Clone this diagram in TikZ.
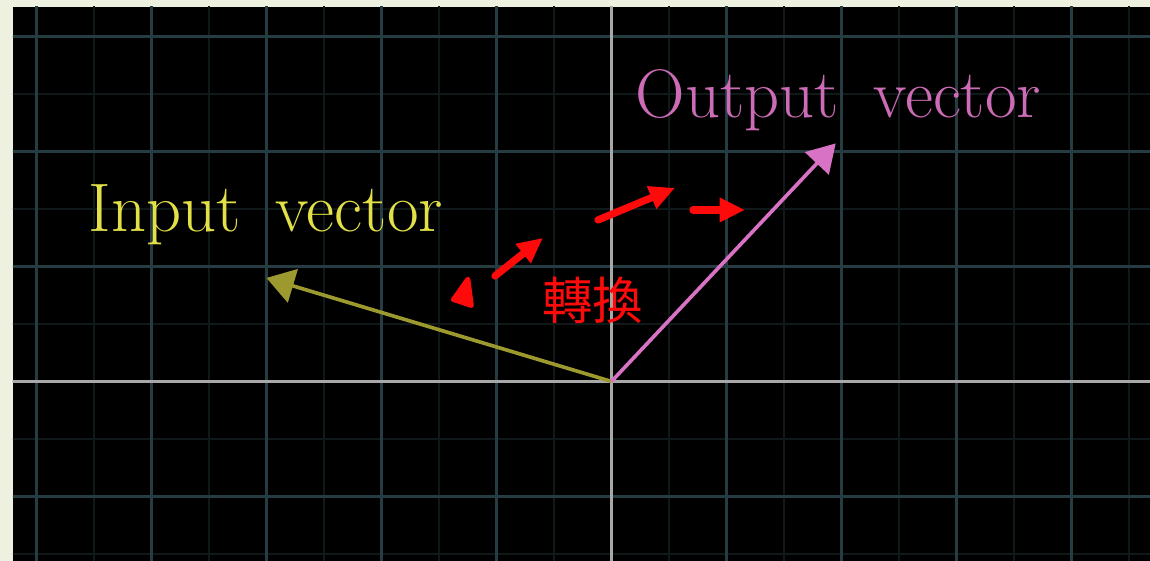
\documentclass[tikz,border=0pt]{standalone}
\usepackage{fontspec}
\newfontfamily\cjkfont{Noto Sans CJK TC}
\usetikzlibrary{arrows.meta}
\definecolor{paperbeige}{HTML}{EEF0E0}
\definecolor{gridmajor}{HTML}{253C43}
\definecolor{gridminor}{HTML}{10191A}
\definecolor{axisgrey}{HTML}{A8A8A8}
\definecolor{inolive}{HTML}{9C9A2E}
\definecolor{inyellow}{HTML}{E2E046}
\definecolor{outpink}{HTML}{D872C4}
\definecolor{outtext}{HTML}{CC6CB6}
\definecolor{doodlered}{HTML}{FF0A0A}

\begin{document}
\begin{tikzpicture}[
  minorline/.style={draw=gridminor, line width=0.5pt},
  majorline/.style={draw=gridmajor, line width=0.8pt},
  axisline/.style={draw=axisgrey, line width=0.9pt},
  invec/.style={-{Triangle[length=0.24cm, width=0.3cm]}, draw=inolive, fill=inolive!90!yellow, line width=0.9pt},
  outvec/.style={-{Triangle[length=0.24cm, width=0.28cm]}, draw=outpink, fill=outpink, line width=0.9pt},
  vlabel/.style={anchor=base west, inner sep=0pt, font=\fontsize{17}{20}\selectfont},
  doodle/.style={-{Triangle[length=0.22cm, width=0.2cm]}, draw=doodlered, fill=doodlered, line width=1.8pt, line cap=round},
]

% ---- frame and background ----
\useasboundingbox (-5.317,-1.561) rectangle (4.683,3.317);
\fill[paperbeige] (-5.317,-1.561) rectangle (4.683,3.317);
\fill[black] (-5.204,-1.561) rectangle (4.683,3.256);

% ---- grid ----
\begin{scope}
  \clip (-5.204,-1.561) rectangle (4.683,3.256);
  \foreach \x in {-5.5,-4.5,...,4.5} \draw[minorline] (\x,-2) -- (\x,4);
  \foreach \y in {-1.5,-0.5,...,3.5} \draw[minorline] (-6,\y) -- (5,\y);
  \foreach \x in {-5,...,4} \draw[majorline] (\x,-2) -- (\x,4);
  \foreach \y in {-1,...,3} \draw[majorline] (-6,\y) -- (5,\y);
  \draw[axisline] (-6,0) -- (5,0);
  \draw[axisline] (0,-2) -- (0,4);
\end{scope}

% ---- vectors ----
\coordinate (O) at (0,0);
\coordinate (vin) at (-3,0.9);
\coordinate (vout) at (1.95,2.07);
\draw[invec] (O) -- (vin);
\draw[outvec] (O) -- (vout);

\node[vlabel, text=inyellow] (inlabel) at (-4.552,1.30) {Input\hspace{0.5em}vector};
\node[vlabel, text=outtext] (outlabel) at (0.204,2.291) {Output\hspace{0.5em}vector};

% ---- red marker notes ----
\fill[doodlered, draw=doodlered, line width=1.2pt, line join=round]
  (-1.248,0.890) -- (-1.375,0.712) -- (-1.218,0.660) -- cycle;
\coordinate (d1a) at (-1.013,0.917);
\coordinate (d1b) at (-0.596,1.248);
\coordinate (d2a) at (-0.117,1.404);
\coordinate (d2b) at (0.552,1.683);
\coordinate (d3a) at (0.709,1.491);
\coordinate (d3b) at (1.161,1.491);
\draw[doodle] (d1a) -- (d1b);
\draw[doodle] (d2a) -- (d2b);
\draw[doodle] (d3a) -- (d3b);
\node[text=doodlered, font=\cjkfont\fontsize{12.5}{14}\selectfont] (note) at (-0.161,0.709) {轉換};

\end{tikzpicture}
\end{document}
